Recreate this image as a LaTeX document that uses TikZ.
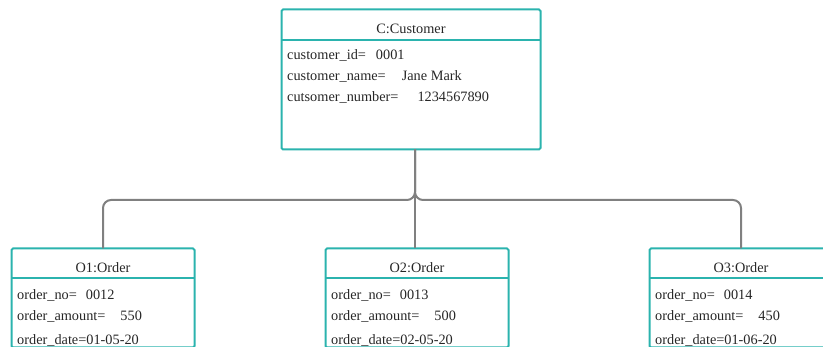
\documentclass[tikz,border=0pt]{standalone}
\usepackage{fontspec}
\setmainfont{Liberation Serif}
\definecolor{objteal}{HTML}{2BB3AE}
\definecolor{linkgray}{HTML}{808080}
\begin{document}
\begin{tikzpicture}[x=1pt,y=-1pt,
  objbox/.style={draw=objteal,line width=2pt,rounded corners=1.5pt,anchor=north west,inner sep=0pt,outer sep=0pt},
  txt/.style={font=\rmfamily\fontsize{14.3}{17}\selectfont,inner sep=0pt,anchor=west,text=black!85},
  ttl/.style={font=\rmfamily\fontsize{14.3}{17}\selectfont,inner sep=0pt,text=black!85},
  divider/.style={draw=objteal,line width=2pt},
  link/.style={draw=linkgray,line width=2pt,rounded corners=8pt}]
\useasboundingbox (0,0) rectangle (823,347);
\begin{scope}
\clip (0,0) rectangle (823,347);

% customer object
\node[objbox,minimum width=259pt,minimum height=140pt] (cust) at (281.5,9.5) {};
\draw[divider] ([yshift=-31pt]cust.north west) -- ([yshift=-31pt]cust.north east);
\node[ttl] (custT) at (411,29) {C:Customer};
\node[txt] (custA) at (287,55) {customer\_id=\hspace{10pt}0001};
\node[txt] (custB) at (287,76) {customer\_name=\hspace{16pt}Jane Mark};
\node[txt] (custC) at (287,97) {cutsomer\_number=\hspace{19pt}1234567890};

% order objects
\foreach \n/\x/\no/\amt/\dt in {1/11/0012/550/01-05-20, 2/325/0013/500/02-05-20, 3/649/0014/450/01-06-20}{
  \node[objbox,minimum width=183pt,minimum height=99pt] (o\n) at (\x+0.5,248.5) {};
  \draw[divider] ([yshift=-30pt]o\n.north west) -- ([yshift=-30pt]o\n.north east);
  \node[ttl] (o\n T) at ([yshift=-19.5pt]o\n.north) {O\n:Order};
  \node[txt] (o\n A) at (\x+6,295) {order\_no=\hspace{9pt}\no};
  \node[txt] (o\n B) at (\x+6,316) {order\_amount=\hspace{15pt}\amt};
  \node[txt] (o\n C) at (\x+6,340) {order\_date=\dt};
}

% links from customer to its orders
\coordinate (fork) at (415,200);
\draw[link] (cust.south -| 415,0) -- (fork) -| (o1.north);
\draw[link] (cust.south -| 415,0) -- (o2.north -| 415,0);
\draw[link] (cust.south -| 415,0) -- (fork) -| (o3.north);
\end{scope}
\end{tikzpicture}
\end{document}
